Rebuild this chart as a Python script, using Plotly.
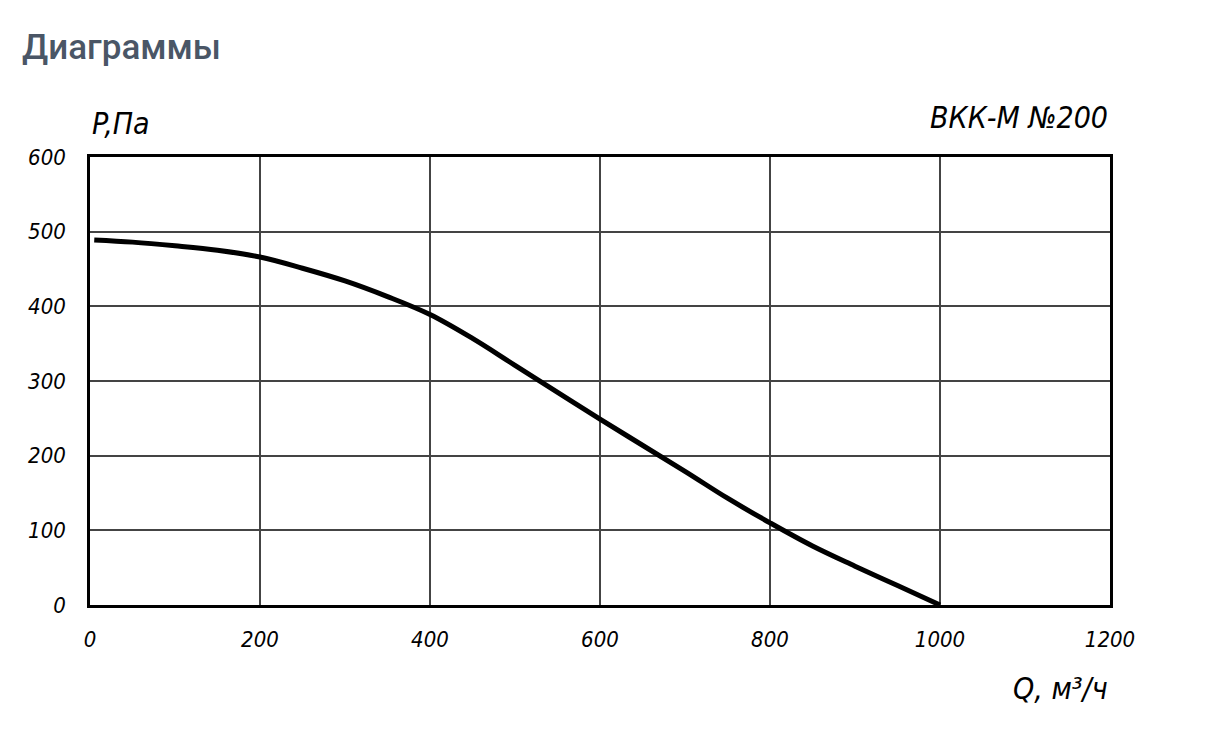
import plotly.graph_objects as go

# Data
flow_q = [5, 50, 100, 150, 200, 250, 300, 350, 400, 450, 500, 600, 700, 750, 800, 850, 900, 950, 1000]
pressure_p = [489, 486, 481, 475, 466, 451, 434, 413, 389, 357, 321, 249, 179, 143, 110, 79, 52, 26, 0]

x_ticks = [0, 200, 400, 600, 800, 1000, 1200]
y_ticks = [0, 100, 200, 300, 400, 500, 600]

title_text = "Диаграммы"
model_text = "ВКК-М №200"
y_label = "P,Па"
x_label = "Q, м³/ч"

FONT = "DejaVu Sans Condensed, DejaVu Sans, sans-serif"

W, H = 1211, 732
L, R, T, B = 82, 109, 149, 135
PW, PH = W - L - R, H - T - B

fig = go.Figure()
fig.add_trace(go.Scatter(
    x=flow_q, y=pressure_p, mode="lines",
    line=dict(color="black", width=5, shape="spline", smoothing=1.0),
    hoverinfo="skip", showlegend=False,
))

axis_common = dict(
    showgrid=True, gridcolor="#444444", gridwidth=1.5,
    showline=True, linecolor="black", linewidth=2.5, mirror=True,
    zeroline=False, ticks="",
    tickfont=dict(family=FONT, size=22, color="black", style="italic"),
)

fig.update_layout(
    width=W, height=H,
    margin=dict(l=L, r=R, t=T, b=B),
    paper_bgcolor="white", plot_bgcolor="white",
    xaxis=dict(range=[0, 1200], tickvals=x_ticks, ticktext=[str(v) for v in x_ticks],
               ticklabelstandoff=13, **axis_common),
    yaxis=dict(range=[0, 600], tickvals=y_ticks, ticktext=[str(v) for v in y_ticks],
               ticklabelstandoff=17, **axis_common),
    annotations=[
        dict(text=title_text, x=(12 - L) / PW, y=1 + (T - 39) / PH,
             xref="paper", yref="paper", showarrow=False,
             xanchor="left", yanchor="middle",
             font=dict(family="Roboto", size=35, color="#4a5666", weight=500)),
        dict(text=y_label, x=0, y=1, xref="paper", yref="paper", showarrow=False,
             xanchor="left", yanchor="bottom", yshift=14,
             font=dict(family=FONT, size=30, color="black", style="italic")),
        dict(text=model_text, x=1, y=1, xref="paper", yref="paper", showarrow=False,
             xanchor="right", yanchor="bottom", yshift=20,
             font=dict(family=FONT, size=30, color="black", style="italic")),
        dict(text=x_label, x=1, y=0, xref="paper", yref="paper", showarrow=False,
             xanchor="right", yanchor="top", yshift=-64,
             font=dict(family=FONT, size=30, color="black", style="italic")),
    ],
)

fig.write_html("out.html")
